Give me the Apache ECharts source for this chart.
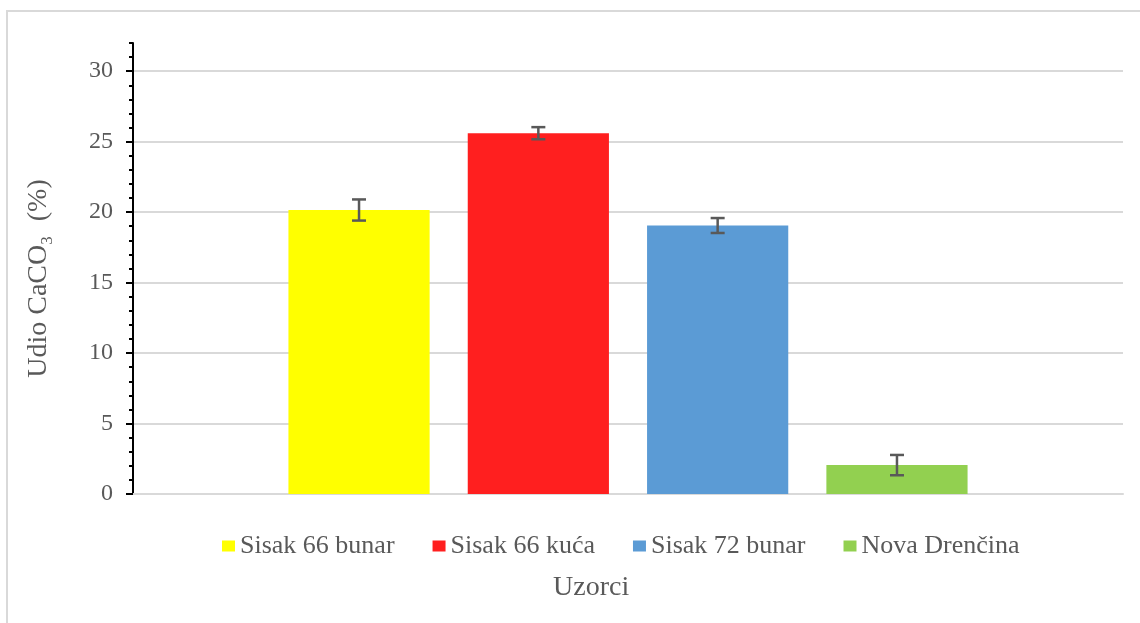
<!DOCTYPE html>
<html>
<head>
<meta charset="utf-8">
<script src="https://cdn.jsdelivr.net/npm/echarts@6/dist/echarts.min.js"></script>
<style>html,body{margin:0;padding:0;background:#fff}#c{width:1140px;height:623px}</style>
</head>
<body>
<div id="c"></div>
<script>
var categories = [''];
var seriesNames = ['Sisak 66 bunar', 'Sisak 66 kuća', 'Sisak 72 bunar', 'Nova Drenčina'];
var seriesValues = [20.15, 25.6, 19.05, 2.05];
var seriesErrors = [0.75, 0.43, 0.53, 0.72];
var seriesColors = ['#FFFF00', '#FF1F1F', '#5B9BD5', '#92D050'];
var yTickLabels = ['0', '5', '10', '15', '20', '25', '30'];

var FONT = '"Liberation Serif", "DejaVu Serif", serif';
var TXT = '#595959';
var CAT_GAP = 0.314, BAR_GAP = 0.27;

var series = seriesNames.map(function (n, i) {
  return {
    name: n, type: 'bar', yAxisIndex: 0,
    data: [seriesValues[i]],
    itemStyle: { color: seriesColors[i] },
    barGap: (BAR_GAP * 100) + '%', barCategoryGap: (CAT_GAP * 100) + '%',
    emphasis: { disabled: true }
  };
});

series.push({
  type: 'custom', yAxisIndex: 0, silent: true, z: 10,
  data: seriesValues.map(function (v, i) { return [0, v, seriesErrors[i], i]; }),
  renderItem: function (params, api) {
    var v = api.value(1), e = api.value(2), i = api.value(3);
    var n = seriesNames.length;
    var band = api.size([1, 0])[0];
    var bw = band * (1 - CAT_GAP) / (n + (n - 1) * BAR_GAP);
    var off = (i - (n - 1) / 2) * bw * (1 + BAR_GAP);
    var top = api.coord([0, v + e]);
    var bot = api.coord([0, v - e]);
    var x = top[0] + off;
    var cap = 7;
    var st = { stroke: '#595959', lineWidth: 2.5 };
    return {
      type: 'group', children: [
        { type: 'line', shape: { x1: x, y1: top[1], x2: x, y2: bot[1] }, style: st },
        { type: 'line', shape: { x1: x - cap, y1: top[1], x2: x + cap, y2: top[1] }, style: st },
        { type: 'line', shape: { x1: x - cap, y1: bot[1], x2: x + cap, y2: bot[1] }, style: st }
      ]
    };
  }
});

var chart = echarts.init(document.getElementById('c'), null, { renderer: 'canvas' });
chart.setOption({
  animation: false,
  textStyle: { fontFamily: FONT },
  grid: { left: 133, right: 17, top: 43, bottom: 129, containLabel: false },
  graphic: [
    { type: 'rect', shape: { x: 7, y: 11, width: 1300, height: 800 }, style: { fill: 'none', stroke: '#d9d9d9', lineWidth: 2 }, silent: true },
    { type: 'text', left: 553, top: 574, style: { text: 'Uzorci', font: '28px "Liberation Serif"', fill: TXT } }
  ],
  legend: {
    left: 217, top: 528, width: 900,
    icon: 'rect', itemWidth: 13, itemHeight: 11, itemGap: 38,
    textStyle: {
      fontFamily: FONT, fontSize: 26, color: TXT,
      rich: { t: { fontFamily: FONT, fontSize: 26, color: TXT } }
    },
    formatter: function (name) { return '{t|' + name + '}'; },
    data: seriesNames,
    selectedMode: false
  },
  xAxis: {
    type: 'category', data: categories,
    axisLine: { show: true, lineStyle: { color: '#d9d9d9', width: 2 } },
    axisTick: { show: false }, axisLabel: { show: false }, splitLine: { show: false }
  },
  yAxis: [
    {
      type: 'value', min: 0, max: 32, interval: 5,
      axisLine: { show: false },
      axisTick: { show: true, length: 7, lineStyle: { color: '#000', width: 2 } },
      axisLabel: {
        show: true, showMaxLabel: false, margin: 20, fontFamily: FONT, fontSize: 24, color: TXT,
        formatter: function (v) { var s = String(v); return yTickLabels.indexOf(s) >= 0 ? s : ''; }
      },
      splitLine: { show: true, showMaxLine: false, lineStyle: { color: '#d9d9d9', width: 2 } },
      name: '{a|Udio CaCO}{s|3}{a| (%)}',
      nameLocation: 'middle', nameGap: 77, nameRotate: 90,
      nameTextStyle: {
        color: TXT, fontFamily: FONT, fontSize: 28, padding: [0, 20, 0, 0],
        rich: {
          a: { fontFamily: FONT, fontSize: 28, color: TXT, lineHeight: 34 },
          s: { fontFamily: FONT, fontSize: 17, color: TXT, lineHeight: 20, verticalAlign: 'bottom', padding: [0, 8, 0, 0] }
        }
      }
    },
    {
      type: 'value', min: 0, max: 32, interval: 1, position: 'left',
      axisLine: { show: true, lineStyle: { color: '#000', width: 2 } },
      axisTick: { show: true, length: 4, lineStyle: { color: '#000', width: 2 } },
      axisLabel: { show: false }, splitLine: { show: false }
    }
  ],
  series: series
});
</script>
</body>
</html>
